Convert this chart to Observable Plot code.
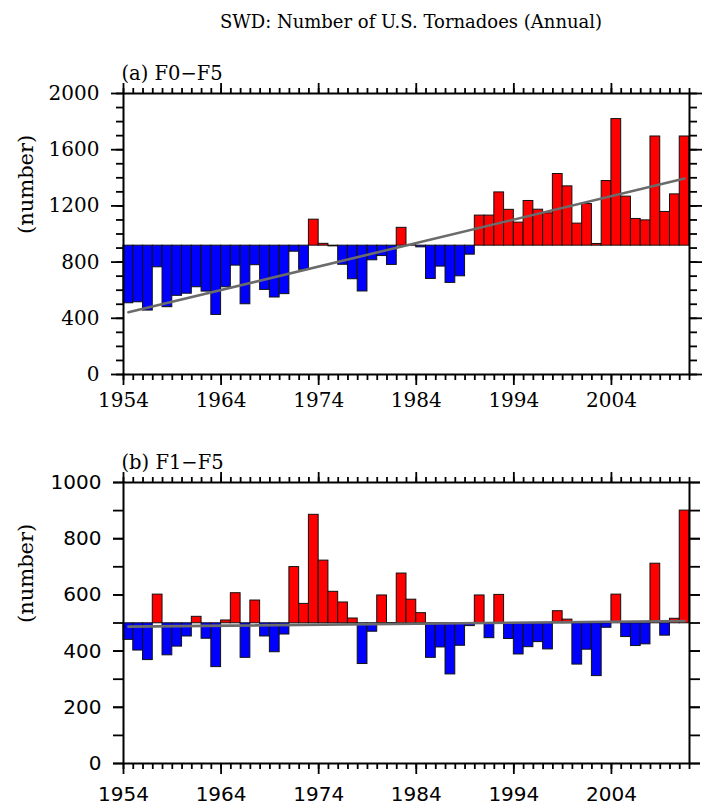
<!DOCTYPE html>
<html><head><meta charset="utf-8">
<script src="https://cdn.jsdelivr.net/npm/d3@7"></script>
<script src="https://cdn.jsdelivr.net/npm/@observablehq/plot@0.6"></script>
<style>
html,body{margin:0;padding:0;background:#fff}
body{width:714px;height:809px;position:relative;overflow:hidden}
#title{position:absolute;left:128px;width:566px;top:11px;text-align:center;font-family:"DejaVu Serif",serif;font-size:18px;color:#000;white-space:nowrap}
#pa{position:absolute;left:0;top:40px}
#pb{position:absolute;left:0;top:430px}
svg{overflow:visible}
</style></head><body>
<div id="title">SWD: Number of U.S. Tornadoes (Annual)</div>
<div id="pa"></div>
<div id="pb"></div>
<script>
const years = [1954,1955,1956,1957,1958,1959,1960,1961,1962,1963,1964,1965,1966,1967,1968,1969,1970,1971,1972,1973,1974,1975,1976,1977,1978,1979,1980,1981,1982,1983,1984,1985,1986,1987,1988,1989,1990,1991,1992,1993,1994,1995,1996,1997,1998,1999,2000,2001,2002,2003,2004,2005,2006,2007,2008,2009,2010,2011];
// (a) F0-F5 annual counts
const countsF0F5 = [507,514,455,763,479,560,575,621,590,424,621,775,500,778,602,548,572,874,745,1102,930,912,781,678,591,813,843,780,1044,920,905,680,768,652,699,853,1131,1131,1296,1172,1081,1235,1173,1147,1427,1339,1074,1213,929,1377,1818,1266,1107,1097,1694,1157,1282,1694];
// (b) F1-F5 annual counts
const countsF1F5 = [440,402,368,601,385,416,452,522,444,343,509,606,376,580,452,396,459,699,568,885,722,611,573,516,354,469,598,500,676,583,535,376,413,317,419,489,598,446,600,443,388,414,432,406,542,512,352,405,311,483,601,450,418,424,711,455,515,900];
const baseF0F5 = 917;
const baseF1F5 = 499;
const trendYears = [1954.5, 2011.5];
const trendF0F5 = [443, 1395];
const trendF1F5 = [487, 507];
const majorYears = [1954,1964,1974,1984,1994,2004];
const minorYears = d3.range(1954, 2013);
const yMajorA = [0,400,800,1200,1600,2000];
const yMinorA = d3.range(0, 2001, 100);
const yMajorB = [0,200,400,600,800,1000];
const yMinorB = d3.range(0, 1001, 100);

function panel({values, base, trend, yMax, yMajor, yMinor, yMajorSize, yMinorSize, label, tickFont, xPad, marginTop, height}) {
  const data = years.map((year, i) => ({year, value: values[i], side: values[i] >= base ? "above" : "below"}));
  const trendData = trendYears.map((x, i) => ({x, y: trend[i]}));
  const tickStyle = {strokeWidth: 1.8, label: null};
  const blank = () => "";
  return Plot.plot({
    width: 714, height, marginLeft: 123, marginRight: 25, marginTop, marginBottom: 46,
    style: {background: "white", overflow: "visible"},
    x: {domain: [1954, 2012]},
    y: {domain: [0, yMax]},
    color: {domain: ["above", "below"], range: ["#ff0000", "#0000ff"]},
    marks: [
      Plot.rect(data, {x1: "year", x2: d => d.year + 1, y1: () => base, y2: "value", fill: "side", stroke: "#111", strokeWidth: 1}),
      Plot.line(trendData, {x: "x", y: "y", stroke: "#6b6b6b", strokeWidth: 2.6}),
      Plot.frame({stroke: "black", strokeWidth: 2}),
      Plot.axisX({anchor: "bottom", ticks: majorYears, tickSize: 11, tickPadding: xPad, tickFormat: d => String(d), fontFamily: tickFont, fontSize: 20, ...tickStyle}),
      Plot.axisX({anchor: "bottom", ticks: minorYears, tickSize: 6, tickFormat: blank, ...tickStyle}),
      Plot.axisX({anchor: "top", ticks: majorYears, tickSize: 11, tickFormat: blank, ...tickStyle}),
      Plot.axisX({anchor: "top", ticks: minorYears, tickSize: 6, tickFormat: blank, ...tickStyle}),
      Plot.axisY({anchor: "left", ticks: yMajor, tickSize: yMajorSize, tickPadding: 12, tickFormat: d => String(d), fontFamily: tickFont, fontSize: 20, ...tickStyle}),
      Plot.axisY({anchor: "left", ticks: yMinor, tickSize: yMinorSize, tickFormat: blank, ...tickStyle}),
      Plot.axisY({anchor: "right", ticks: yMajor, tickSize: yMajorSize, tickFormat: blank, ...tickStyle}),
      Plot.axisY({anchor: "right", ticks: yMinor, tickSize: yMinorSize, tickFormat: blank, ...tickStyle}),
      Plot.text([label], {text: d => d, frameAnchor: "top-left", textAnchor: "start", lineAnchor: "bottom", dx: -2, dy: -14, fontFamily: "DejaVu Serif", fontSize: 19.5, fill: "black"}),
      Plot.text(["(number)"], {text: d => d, frameAnchor: "left", dx: -97, rotate: -90, fontFamily: "DejaVu Serif", fontSize: 21, fill: "black"})
    ]
  });
}

document.getElementById("pa").append(panel({
  values: countsF0F5, base: baseF0F5, trend: trendF0F5, yMax: 2000,
  yMajor: yMajorA, yMinor: yMinorA, yMajorSize: 12, yMinorSize: 7,
  label: "(a) F0\u2212F5", tickFont: "DejaVu Serif", xPad: 7, marginTop: 53, height: 380
}));
document.getElementById("pb").append(panel({
  values: countsF1F5, base: baseF1F5, trend: trendF1F5, yMax: 1000,
  yMajor: yMajorB, yMinor: yMinorB, yMajorSize: 10, yMinorSize: 10,
  label: "(b) F1\u2212F5", tickFont: "DejaVu Sans", xPad: 12, marginTop: 52, height: 379
}));
</script>
</body></html>
